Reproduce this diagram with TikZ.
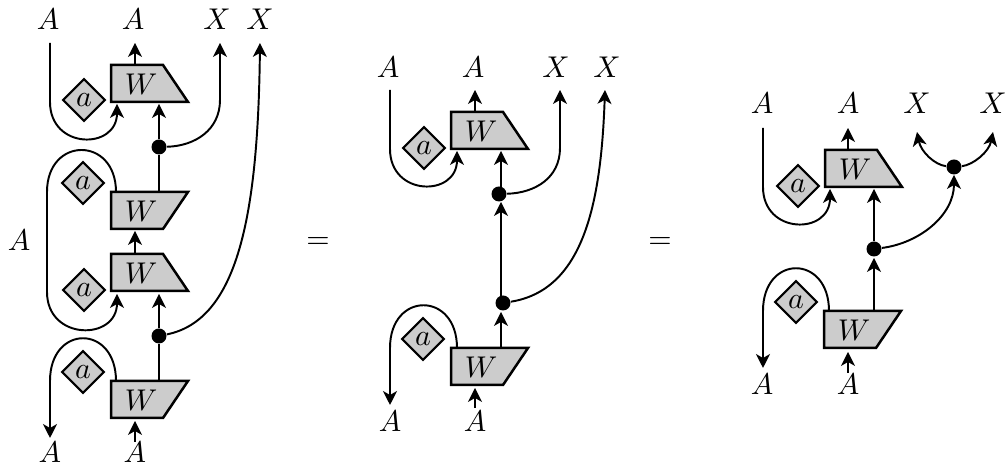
\documentclass[tikz,border=0pt]{standalone}
\usepackage{graphicx}
\usetikzlibrary{arrows.meta,shapes.geometric}
\definecolor{boxgray}{gray}{0.8}
\tikzset{
  wire/.style={line width=0.7pt},
  arr/.style={wire,-{Stealth[length=5pt,width=5pt,inset=1.4pt]}},
  wbox/.style={draw,fill=boxgray,line width=0.9pt,line join=miter},
  lab/.style={inner sep=0pt},
  dotn/.style={circle,fill=black,inner sep=0pt,minimum size=5.4pt},
  stone/.style={diamond,draw,fill=boxgray,line width=0.75pt,inner sep=0pt,minimum width=15.4pt,minimum height=15.4pt},
}
\newcommand{\mtxt}[1]{\scalebox{1.08}{$#1$}}
\newcommand{\stonetext}{\scalebox{1.08}{$a$}}
% top-narrow and bottom-narrow W boxes: name, left x, top y
\newcommand{\WTop}[3]{\draw[wbox] (#2,#3) -- ++(52,0) -- ++(25,37) -- ++(-77,0) -- cycle;
  \node[lab] (#1) at (#2+30,#3+19) {\mtxt{W}};}
\newcommand{\WBot}[3]{\draw[wbox] (#2,#3) -- ++(77,0) -- ++(-25,37) -- ++(-52,0) -- cycle;
  \node[lab] (#1) at (#2+30,#3+19) {\mtxt{W}};}
\begin{document}
\begin{tikzpicture}[x=0.36pt,y=-0.36pt]
\useasboundingbox (0,0) rectangle (1007,465);
% ===== left diagram =====
\node[lab] (la1) at (48,19) {\mtxt{A}};
\node[lab] (la2) at (133,19) {\mtxt{A}};
\node[lab] (lx1) at (217,19) {\mtxt{X}};
\node[lab] (lx2) at (260,19) {\mtxt{X}};
\node[lab] (la3) at (19,240) {\mtxt{A}};
\node[lab] (la4) at (50,452) {\mtxt{A}};
\node[lab] (la5) at (135,452) {\mtxt{A}};
\node[dotn] (ld1) at (159,147) {};
\node[dotn] (ld2) at (159,336) {};
\coordinate (c1) at (50,43);
\coordinate (c2) at (135,43);
\coordinate (c3) at (220,43);
\coordinate (c4) at (260,43);
\coordinate (c5) at (117,104);
\coordinate (c6) at (159,104);
\coordinate (c7) at (117,294);
\coordinate (c8) at (159,294);
\coordinate (c9) at (135,65);
\coordinate (c10) at (135,254);
\coordinate (c11) at (135,231);
\coordinate (c12) at (159,192);
\coordinate (c13) at (159,381);
\coordinate (c14) at (116,192);
\coordinate (c15) at (116,381);
\coordinate (c16) at (50,438);
\coordinate (c17) at (135,442);
\coordinate (c18) at (135,421);
\draw[arr] (c9) -- (c2);
\draw[arr] (c10) -- (c11);
\draw[arr] (c17) -- (c18);
\draw[arr] (ld1) -- (c6);
\draw[arr] (ld2) -- (c8);
\draw[wire] (c12) -- (ld1);
\draw[wire] (c13) -- (ld2);
\draw[arr] (c1) -- (50,102) .. controls (50,150) and (117,150) .. (c5);
\draw[arr] (c14) .. controls (116,136) and (47,136) .. (47,192) -- (47,292) .. controls (47,341) and (117,341) .. (c7);
\draw[arr] (c15) .. controls (116,324) and (50,324) .. (50,381) -- (c16);
\draw[arr] (ld1) .. controls (195,146) and (220,130) .. (220,100) -- (c3);
\draw[arr] (ld2) .. controls (238,320) and (258,215) .. (c4);
\WTop{lw1}{111}{65}
\WBot{lw2}{111}{192}
\WTop{lw3}{111}{254}
\WBot{lw4}{111}{381}
\node[stone] (ls1) at (84,100) {\stonetext};
\node[stone] (ls2) at (83,183) {\stonetext};
\node[stone] (ls3) at (84,290) {\stonetext};
\node[stone] (ls4) at (83,372) {\stonetext};
\node[lab] (eq1) at (318,243) {\mtxt{=}};
% ===== middle diagram =====
\node[lab] (ma1) at (388,67) {\mtxt{A}};
\node[lab] (ma2) at (473,67) {\mtxt{A}};
\node[lab] (mx1) at (556,67) {\mtxt{X}};
\node[lab] (mx2) at (607,67) {\mtxt{X}};
\node[lab] (ma3) at (390,421) {\mtxt{A}};
\node[lab] (ma4) at (475,421) {\mtxt{A}};
\node[dotn] (md1) at (499,194) {};
\node[dotn] (md2) at (503,303) {};
\coordinate (m1) at (390,90);
\coordinate (m2) at (475,90);
\coordinate (m3) at (560,90);
\coordinate (m4) at (605,90);
\coordinate (m5) at (457,151);
\coordinate (m6) at (501,151);
\coordinate (m7) at (475,112);
\coordinate (m8) at (501,202);
\coordinate (m9) at (501,348);
\coordinate (m10) at (501,312);
\coordinate (m11) at (457,348);
\coordinate (m12) at (390,405);
\coordinate (m13) at (475,408);
\coordinate (m14) at (475,388);
\coordinate (m15) at (501,194);
\coordinate (m16) at (501,303);
\draw[arr] (m7) -- (m2);
\draw[arr] (m15) -- (m6);
\draw[arr] (m16) -- (m8);
\draw[arr] (m9) -- (m10);
\draw[arr] (m13) -- (m14);
\draw[arr] (m1) -- (390,149) .. controls (390,197) and (457,197) .. (m5);
\draw[arr] (md1) .. controls (535,193) and (560,178) .. (560,148) -- (m3);
\draw[arr] (md2) .. controls (583,290) and (601,205) .. (m4);
\draw[arr] (m11) .. controls (457,291) and (390,291) .. (390,348) -- (m12);
\WTop{mw1}{451}{112}
\WBot{mw2}{451}{348}
\node[stone] (ms1) at (424,148) {\stonetext};
\node[stone] (ms2) at (423,339) {\stonetext};
\node[lab] (eq2) at (660,243) {\mtxt{=}};
% ===== right diagram =====
\node[lab] (ra1) at (762,103) {\mtxt{A}};
\node[lab] (ra2) at (848,103) {\mtxt{A}};
\node[lab] (rx1) at (917,103) {\mtxt{X}};
\node[lab] (rx2) at (993,103) {\mtxt{X}};
\node[lab] (ra3) at (762,384) {\mtxt{A}};
\node[lab] (ra4) at (848,384) {\mtxt{A}};
\node[dotn] (rd1) at (954,167) {};
\node[dotn] (rd2) at (874,249) {};
\coordinate (r1) at (763,128);
\coordinate (r2) at (848,128);
\coordinate (r3) at (917,132);
\coordinate (r4) at (993,132);
\coordinate (r5) at (830,189);
\coordinate (r6) at (874,189);
\coordinate (r7) at (848,150);
\coordinate (r8) at (954,175);
\coordinate (r9) at (874,311);
\coordinate (r10) at (874,258);
\coordinate (r11) at (829,311);
\coordinate (r12) at (763,368);
\coordinate (r13) at (848,373);
\coordinate (r14) at (848,352);
\draw[arr] (r7) -- (r2);
\draw[arr] (rd2) -- (r6);
\draw[arr] (r9) -- (r10);
\draw[arr] (r13) -- (r14);
\draw[arr] (r1) -- (763,187) .. controls (763,235) and (830,235) .. (r5);
\draw[arr] (rd1) .. controls (935,165) and (921,152) .. (r3);
\draw[arr] (rd1) .. controls (973,165) and (989,152) .. (r4);
\draw[arr] (rd2) .. controls (920,243) and (954,215) .. (r8);
\draw[arr] (r11) .. controls (829,254) and (763,254) .. (763,311) -- (r12);
\WTop{rw1}{825}{150}
\WBot{rw2}{824}{311}
\node[stone] (rs1) at (798,186) {\stonetext};
\node[stone] (rs2) at (796,302) {\stonetext};
\end{tikzpicture}
\end{document}
